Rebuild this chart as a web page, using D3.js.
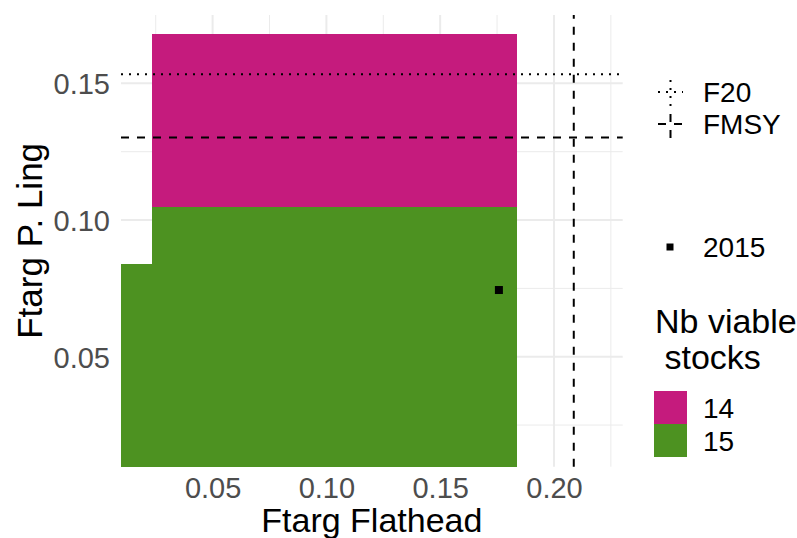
<!DOCTYPE html>
<html><head><meta charset="utf-8">
<script src="https://cdn.jsdelivr.net/npm/d3@7/dist/d3.min.js"></script>
<style>
body{margin:0;background:#fff}
text{font-family:"Liberation Sans",Arial,Helvetica,sans-serif}
</style>
</head><body>
<svg id="chart" width="797" height="538"></svg>
<script>
// ---- data ----
const tileXmin = [0.00975, 0.0234, 0.0234];
const tileXmax = [0.1836, 0.1836, 0.1836];
const tileYmin = [0.00977, 0.0839, 0.1049];
const tileYmax = [0.0839, 0.1049, 0.1680];
const tileStocks = ["15", "15", "14"];
const stockLevels = ["14", "15"];
const refNames = ["F20", "FMSY"];
const refLing = [0.1533, 0.1302];      // horizontal reference lines (y)
const refFlathead = [null, 0.2087];    // vertical reference lines (x)
const pointYears = ["2015"];
const pointFlathead = [0.1758];
const pointLing = [0.0744];
const xTicks = [0.05, 0.10, 0.15, 0.20];
const xMinor = [0.025, 0.075, 0.125, 0.175, 0.225];
const yTicks = [0.05, 0.10, 0.15];
const yMinor = [0.025, 0.075, 0.125];

// ---- styles ----
const palette = ["#C51B7D", "#4D9221"];
const dashFor = {"F20": "2,6", "FMSY": "8,8"};
const svg = d3.select("#chart");
const P = {l: 121, r: 622.7, t: 15, b: 466.7};
const x = d3.scaleLinear().domain([0.00975, 0.2302]).range([P.l, P.r]);
const y = d3.scaleLinear().domain([0.00977, 0.1750]).range([P.b, P.t]);
const fill = d3.scaleOrdinal().domain(stockLevels).range(palette);
const fmt = d3.format(".2f");
const grid = "#EBEBEB";

// grid
const g = svg.append("g");
g.selectAll(".xmin").data(xMinor).join("line")
  .attr("x1", d => x(d)).attr("x2", d => x(d)).attr("y1", P.t).attr("y2", P.b)
  .attr("stroke", grid).attr("stroke-width", 1);
g.selectAll(".ymin").data(yMinor).join("line")
  .attr("y1", d => y(d)).attr("y2", d => y(d)).attr("x1", P.l).attr("x2", P.r)
  .attr("stroke", grid).attr("stroke-width", 1);
g.selectAll(".xmaj").data(xTicks).join("line")
  .attr("x1", d => x(d)).attr("x2", d => x(d)).attr("y1", P.t).attr("y2", P.b)
  .attr("stroke", grid).attr("stroke-width", 2);
g.selectAll(".ymaj").data(yTicks).join("line")
  .attr("y1", d => y(d)).attr("y2", d => y(d)).attr("x1", P.l).attr("x2", P.r)
  .attr("stroke", grid).attr("stroke-width", 2);

// tiles
const tiles = tileStocks.map((s, i) => ({s, x0: tileXmin[i], x1: tileXmax[i], y0: tileYmin[i], y1: tileYmax[i]}));
svg.append("g").selectAll("rect").data(tiles).join("rect")
  .attr("x", d => x(d.x0)).attr("width", d => x(d.x1) - x(d.x0))
  .attr("y", d => y(d.y1)).attr("height", d => y(d.y0) - y(d.y1))
  .attr("fill", d => fill(d.s)).attr("shape-rendering", "crispEdges");

// reference lines
const refs = refNames.map((n, i) => ({n, h: refLing[i], v: refFlathead[i]}));
svg.append("g").selectAll("line").data(refs.filter(d => d.h != null)).join("line")
  .attr("x1", P.l).attr("x2", P.r).attr("y1", d => y(d.h)).attr("y2", d => y(d.h))
  .attr("stroke", "#000").attr("stroke-width", 2).attr("stroke-dasharray", d => dashFor[d.n]);
svg.append("g").selectAll("line").data(refs.filter(d => d.v != null)).join("line")
  .attr("x1", d => x(d.v)).attr("x2", d => x(d.v)).attr("y1", P.b).attr("y2", P.t)
  .attr("stroke", "#000").attr("stroke-width", 2).attr("stroke-dasharray", d => dashFor[d.n]);

// point
const pts = pointYears.map((yr, i) => ({yr, fx: pointFlathead[i], fy: pointLing[i]}));
svg.append("g").selectAll("rect").data(pts).join("rect")
  .attr("x", d => x(d.fx) - 4).attr("y", d => y(d.fy) - 4)
  .attr("width", 8).attr("height", 8).attr("fill", "#000");

// axes
const tickSize = 29;
const xa = svg.append("g").attr("transform", `translate(0,${P.b})`)
  .call(d3.axisBottom(x).tickValues(xTicks).tickFormat(fmt).tickSize(0).tickPadding(31.5));
const ya = svg.append("g").attr("transform", `translate(${P.l},0)`)
  .call(d3.axisLeft(y).tickValues(yTicks).tickFormat(fmt).tickSize(0).tickPadding(11));
[xa, ya].forEach(a => {
  a.select(".domain").remove();
  a.selectAll("text").attr("fill", "#4D4D4D").attr("font-size", tickSize)
    .attr("font-family", '"Liberation Sans",Arial,sans-serif');
});
xa.selectAll("text").attr("dy", 0);
ya.selectAll("text").attr("dy", "0.36em");

// axis titles
svg.append("text").attr("x", (P.l + P.r) / 2).attr("y", 532)
  .attr("text-anchor", "middle").attr("font-size", 34).attr("fill", "#000").text("Ftarg Flathead");
svg.append("text").attr("transform", `translate(42,${(P.t + P.b) / 2}) rotate(-90)`)
  .attr("text-anchor", "middle").attr("font-size", 35).attr("fill", "#000").text("Ftarg P. Ling");

// legend: reference lines
const lg = svg.append("g");
const keyCx = 670.5, keyHalfH = 14;
refs.forEach((d, i) => {
  const cy = 92 + i * 32;
  lg.append("line").attr("x1", 658).attr("x2", 683)
    .attr("y1", cy).attr("y2", cy).attr("stroke", "#000").attr("stroke-width", 2)
    .attr("stroke-dasharray", dashFor[d.n]);
  lg.append("line").attr("x1", keyCx).attr("x2", keyCx)
    .attr("y1", cy + keyHalfH).attr("y2", cy - keyHalfH).attr("stroke", "#000").attr("stroke-width", 2)
    .attr("stroke-dasharray", dashFor[d.n]);
  lg.append("text").attr("x", 703).attr("y", cy + 10).attr("font-size", 28).attr("fill", "#000").text(d.n);
});

// legend: point
pts.forEach((d, i) => {
  lg.append("rect").attr("x", 666.5).attr("y", 243.5).attr("width", 7).attr("height", 7).attr("fill", "#000");
  lg.append("text").attr("x", 703).attr("y", 257).attr("font-size", 28).attr("fill", "#000").text(d.yr);
});

// legend: fill
lg.append("text").attr("x", 655).attr("y", 333).attr("font-size", 34).attr("fill", "#000").text("Nb viable");
lg.append("text").attr("x", 655).attr("y", 369).attr("font-size", 34).attr("fill", "#000")
  .style("white-space", "pre").text(" stocks");
stockLevels.forEach((s, i) => {
  lg.append("rect").attr("x", 654).attr("y", 391 + i * 33).attr("width", 33).attr("height", 33)
    .attr("fill", fill(s)).attr("shape-rendering", "crispEdges");
  lg.append("text").attr("x", 703).attr("y", 418 + i * 33).attr("font-size", 28).attr("fill", "#000").text(s);
});
</script>
</body></html>
